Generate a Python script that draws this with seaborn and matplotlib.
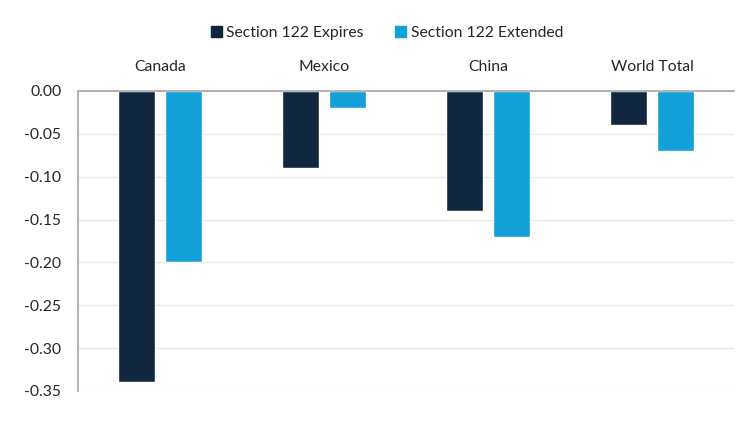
import pandas as pd
import matplotlib.pyplot as plt
import seaborn as sns

countries = ["Canada", "Mexico", "China", "World Total"]
expires = [-0.34, -0.09, -0.14, -0.04]
extended = [-0.20, -0.02, -0.17, -0.07]
series_names = ["Section 122 Expires", "Section 122 Extended"]
yticks = [0.00, -0.05, -0.10, -0.15, -0.20, -0.25, -0.30, -0.35]

df = pd.DataFrame({
    "Country": countries * 2,
    "Value": expires + extended,
    "Scenario": [series_names[0]] * 4 + [series_names[1]] * 4,
})

sns.set_style("white")
plt.rcParams["font.family"] = ["Lato", "DejaVu Sans"]

colors = ["#10273F", "#13A0D8"]

fig = plt.figure(figsize=(7.5, 4.22), dpi=100)
ax = fig.add_axes([78 / 750, 1 - 391 / 422, 656 / 750, 300 / 422])

sns.barplot(
    data=df, x="Country", y="Value", hue="Scenario",
    palette=colors, width=0.58, gap=0.22,
    ax=ax, legend=False, saturation=1,
)

ax.set_ylim(-0.35, 0)
ax.set_yticks(yticks)
ax.set_yticklabels([f"{v:.2f}" for v in yticks])
ax.yaxis.grid(True, color="#E8E8E8", linewidth=1)
ax.set_axisbelow(True)
ax.xaxis.tick_top()
ax.tick_params(axis="x", length=0, pad=12, labelsize=11.3)
ax.tick_params(axis="y", length=0, pad=12, labelsize=11.3)
ax.set_xlabel("")
ax.set_ylabel("")
for s in ["right", "bottom"]:
    ax.spines[s].set_visible(False)
for s in ["top", "left"]:
    ax.spines[s].set_color("#A6A6A6")
    ax.spines[s].set_linewidth(1.2)

handles = [plt.Rectangle((0, 0), 1, 1, color=c) for c in colors]
fig.legend(handles, series_names, loc="center", bbox_to_anchor=(387 / 750, 1 - 33 / 422),
           ncol=2, frameon=False, fontsize=11.3, handlelength=0.7, handleheight=0.7,
           handletextpad=0.3, columnspacing=2.0)

plt.savefig("out.png", dpi=100)
